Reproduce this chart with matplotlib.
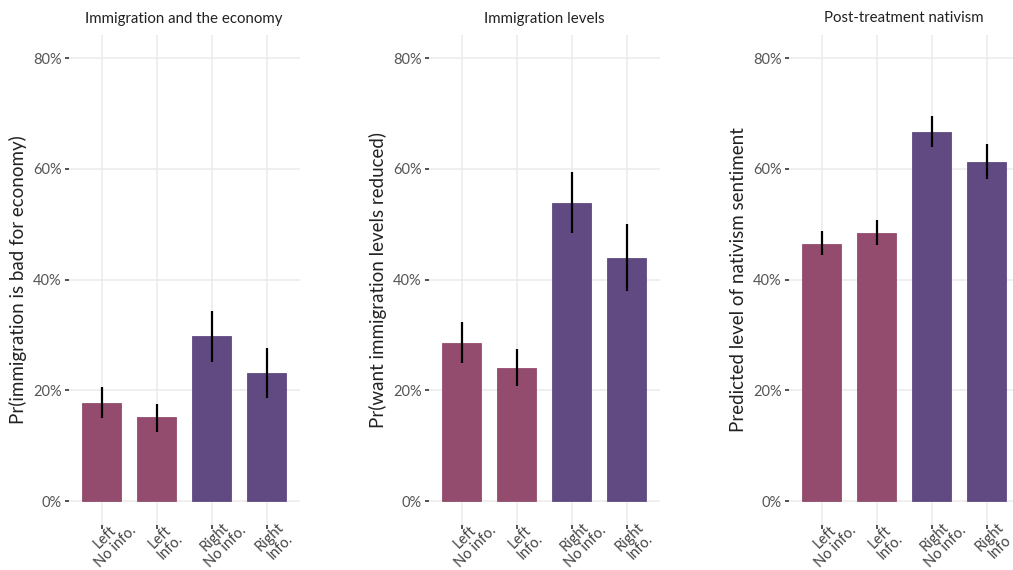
import matplotlib
matplotlib.use("Agg")
import matplotlib.pyplot as plt
import numpy as np
from matplotlib.ticker import FuncFormatter
from matplotlib.transforms import ScaledTranslation

plt.rcParams['font.family'] = ['Lato', 'DejaVu Sans']

categories = ["Left\nNo info.", "Left\nInfo.", "Right\nNo info.", "Right\nInfo."]
categories3 = ["Left\nNo info.", "Left\nInfo.", "Right\nNo info.", "Right\nInfo"]
titles = ["Immigration and the economy", "Immigration levels", "Post-treatment nativism"]
ylabels = ["Pr(immigration is bad for economy)", "Pr(want immigration levels reduced)",
           "Predicted level of nativism sentiment"]

economy_est = [0.177, 0.152, 0.298, 0.232]
economy_lo = [0.150, 0.125, 0.252, 0.187]
economy_hi = [0.206, 0.175, 0.344, 0.277]

levels_est = [0.285, 0.240, 0.538, 0.439]
levels_lo = [0.249, 0.208, 0.484, 0.379]
levels_hi = [0.323, 0.274, 0.594, 0.500]

nativism_est = [0.465, 0.485, 0.667, 0.613]
nativism_lo = [0.444, 0.463, 0.639, 0.582]
nativism_hi = [0.488, 0.507, 0.696, 0.645]

yticks = [0.0, 0.2, 0.4, 0.6, 0.8]

left_col = "#944C6E"
right_col = "#614A82"
bar_colors = [left_col, left_col, right_col, right_col]

W, H = 1013, 570
fig = plt.figure(figsize=(W / 100, H / 100), dpi=100)

panels = [
    (economy_est, economy_lo, economy_hi, categories),
    (levels_est, levels_lo, levels_hi, categories),
    (nativism_est, nativism_lo, nativism_hi, categories3),
]
lefts_px = [68.7, 428.5, 788.7]
width_px = 231.0
bottom_px, top_px = 525.0, 35.0
label_x_px = [18, 378, 738]

for i, (est, lo, hi, cats) in enumerate(panels):
    ax = fig.add_axes([lefts_px[i] / W, (H - bottom_px) / H, width_px / W,
                       (bottom_px - top_px) / H])
    x = np.arange(1, len(est) + 1)
    ax.set_axisbelow(True)
    ax.grid(True, color="#EBEBEB", linewidth=1.1)
    ax.bar(x, est, width=0.7, color=bar_colors, edgecolor=bar_colors, linewidth=0.6,
           zorder=2)
    ax.vlines(x, lo, hi, color="black", linewidth=1.6, zorder=3)
    ax.set_xlim(0.4, 4.6)
    ax.set_ylim(-0.043, 0.842)
    ax.set_yticks(yticks)
    ax.yaxis.set_major_formatter(FuncFormatter(lambda v, p: f"{v*100:.0f}%"))
    ax.set_xticks(x)
    ax.set_xticklabels([])
    trans = ax.get_xaxis_transform() + ScaledTranslation(8.5 / 100, -17.0 / 100,
                                                          fig.dpi_scale_trans)
    for xi, lab in zip(x, cats):
        ax.text(xi, 0, lab, transform=trans, rotation=45, ha="center", va="center",
                rotation_mode="anchor", multialignment="center", fontsize=10.5,
                color="#444444", linespacing=1.05)
    for s in ax.spines.values():
        s.set_visible(False)
    ax.tick_params(axis="both", length=3, width=1.2, color="#333333",
                   labelsize=10.5, labelcolor="#555555", pad=2)
    ax.set_title(titles[i], fontsize=10.8, color="#222222", pad=9)
    fig.text(label_x_px[i] / W, 1 - 280 / H, ylabels[i], rotation=90,
             ha="center", va="center", fontsize=13.5, color="#222222")

fig.savefig("out.png", dpi=100, facecolor="white")
